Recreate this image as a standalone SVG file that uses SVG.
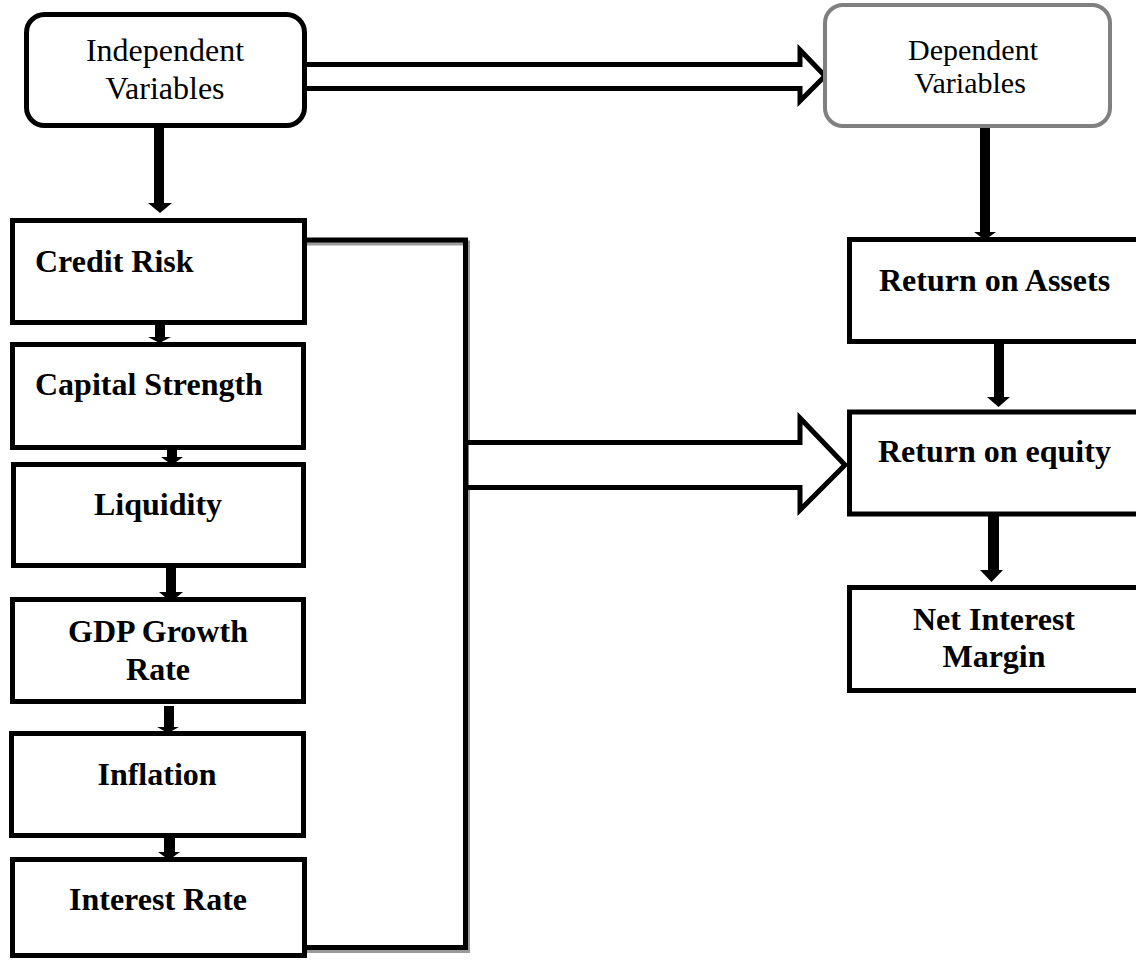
<svg xmlns="http://www.w3.org/2000/svg" width="1136" height="962" viewBox="0 0 1136 962">
<style>
.box{fill:#fff;stroke:#000;stroke-width:5}
.rbox{fill:#fff;stroke:#000;stroke-width:5}
.gbox{fill:#fff;stroke:#808080;stroke-width:4}
.t{font-family:"Liberation Serif","Times New Roman",serif;font-size:32px;fill:#000}
.b{font-family:"Liberation Serif","Times New Roman",serif;font-size:32px;font-weight:bold;fill:#000}
.c{text-anchor:middle}
.blk{fill:#fff;stroke:#000;stroke-width:5;stroke-linejoin:miter}
.ar{fill:#000;stroke:none}
</style>
<rect width="1136" height="962" fill="#fff"/>
<g id="connectors">
  <polyline points="307,243 467.5,243 467.5,950.5 307,950.5" fill="none" stroke="#9a9a9a" stroke-width="5"/>
  <polyline points="307,240 465.5,240 465.5,947.5 307,947.5" fill="none" stroke="#000" stroke-width="5"/>
  <polygon class="blk" points="304,64.5 800,64.5 800,50 825,76 800,101 800,88.5 304,88.5"/>
  <polygon class="blk" points="466,442.5 800,442.5 800,418 845,465 800,510 800,487.5 466,487.5"/>
  <!-- small filled arrows -->
  <path class="ar" d="M154,126 h10 v77 h8 l-12,10 l-12,-10 h6 z"/>
  <path class="ar" d="M155,324 h10 v13 h6 l-11.5,6 l-11.5,-6 h7 z"/>
  <path class="ar" d="M167,449 h10 v8 h6 l-11,8 l-11,-8 h6 z"/>
  <path class="ar" d="M166,567 h10 v25 h7 l-12,10 l-12,-10 h7 z"/>
  <path class="ar" d="M164,706 h10 v21 h5 l-11,6 l-11,-6 h7 z"/>
  <path class="ar" d="M164,837 h11 v15 h5 l-11,8 l-11,-8 h6 z"/>
  <path class="ar" d="M980,126 h10 v106 h6 l-11,8 l-11,-8 h6 z"/>
  <path class="ar" d="M994,343 h10 v54 h6 l-11.5,10 l-11.5,-10 h7 z"/>
  <path class="ar" d="M988,516 h11 v54 h4 l-11.5,12 l-11.5,-12 h8 z"/>
</g>
<g id="independent">
  <rect class="box" x="26.5" y="14.5" width="278" height="111" rx="18"/>
  <text class="t c" x="165" y="61">Independent</text>
  <text class="t c" x="165" y="99">Variables</text>
</g>
<g id="dependent">
  <rect class="gbox" x="825" y="5" width="285" height="121" rx="18"/>
  <text class="t c" x="973" y="60" style="font-size:30px">Dependent</text>
  <text class="t c" x="970" y="93" style="font-size:30px">Variables</text>
</g>
<g id="credit-risk">
  <rect class="box" x="12.5" y="220.5" width="292" height="102"/>
  <text class="b" x="35" y="272">Credit Risk</text>
</g>
<g id="capital-strength">
  <rect class="box" x="12.5" y="344.5" width="291" height="103"/>
  <text class="b" x="35" y="395">Capital Strength</text>
</g>
<g id="liquidity">
  <rect class="box" x="13.5" y="464.5" width="290" height="101"/>
  <text class="b c" x="158" y="515">Liquidity</text>
</g>
<g id="gdp">
  <rect class="box" x="12.5" y="599.5" width="291" height="102"/>
  <text class="b c" x="158" y="642">GDP Growth</text>
  <text class="b c" x="158" y="680">Rate</text>
</g>
<g id="inflation">
  <rect class="box" x="11.5" y="733.5" width="292" height="102"/>
  <text class="b c" x="157" y="785">Inflation</text>
</g>
<g id="interest-rate">
  <rect class="box" x="12.5" y="859.5" width="292" height="96"/>
  <text class="b c" x="158" y="910">Interest Rate</text>
</g>
<g id="roa">
  <rect class="rbox" x="849.5" y="239.5" width="300" height="102"/>
  <text class="b" x="879" y="291">Return on Assets</text>
</g>
<g id="roe">
  <rect class="rbox" x="849.5" y="412" width="300" height="102"/>
  <text class="b" x="878" y="462">Return on equity</text>
</g>
<g id="nim">
  <rect class="rbox" x="849.5" y="587.5" width="300" height="103"/>
  <text class="b c" x="994" y="630">Net Interest</text>
  <text class="b c" x="994" y="667">Margin</text>
</g>
</svg>
